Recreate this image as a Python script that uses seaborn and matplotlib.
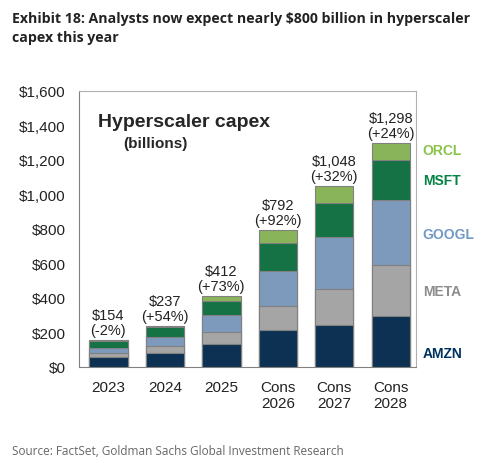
import matplotlib
matplotlib.use("Agg")
import matplotlib.pyplot as plt
import seaborn as sns
import pandas as pd
import numpy as np

sns.set_theme(style="white")
plt.rcParams['font.family'] = ['Liberation Sans', 'DejaVu Sans']

years = ["2023", "2024", "2025", "Cons\n2026", "Cons\n2027", "Cons\n2028"]
companies = ["AMZN", "META", "GOOGL", "MSFT", "ORCL"]
amzn = [56, 81, 133, 216, 242, 294]
meta = [25, 39, 67, 136, 208, 296]
googl = [31, 52, 99, 203, 302, 375]
msft = [37, 58, 84, 164, 200, 237]
orcl = [5, 7, 29, 73, 96, 96]
totals = [154, 237, 412, 792, 1048, 1298]
growth = ["-2%", "+54%", "+73%", "+92%", "+32%", "+24%"]
colors = ["#00325f", "#a5a5a5", "#7299c6", "#058244", "#8bc34a"]
label_colors = ["#00325f", "#8c8c8c", "#7299c6", "#058244", "#8bc34a"]

series = [amzn, meta, googl, msft, orcl]
fig = plt.figure(figsize=(4.85, 4.64), dpi=100)
ax = fig.add_axes([0.163, 0.207, 0.695, 0.595])
bottom = np.zeros(len(years))
for name, vals, c in zip(companies, series, colors):
    df = pd.DataFrame({"year": years, "v": np.array(vals) + bottom})
    sns.barplot(data=df, x="year", y="v", color=c, ax=ax, width=0.68,
                edgecolor="#808080", linewidth=0.8, zorder=5 - companies.index(name))
    bottom += np.array(vals)

for i, (t, g) in enumerate(zip(totals, growth)):
    ax.text(i, t + 18, f"${t:,}\n({g})", ha="center", va="bottom", fontsize=10.5, color="#222222", linespacing=1.1)

mids = [80, 440, 770, 1085, 1255]
for name, y, c in zip(companies, mids, label_colors):
    ax.text(1.02, y, name, transform=ax.get_yaxis_transform(), color=c, fontsize=10,
            fontweight="bold", va="center", ha="left")

ax.set_ylim(0, 1600)
ax.set_xlim(-0.52, 5.45)
ax.set_yticks(range(0, 1601, 200))
ax.set_yticklabels([f"${v:,}" for v in range(0, 1601, 200)], fontsize=11)
ax.tick_params(axis="x", labelsize=11, colors="#222222")
ax.tick_params(axis="y", colors="#222222")
ax.set_xlabel("")
ax.set_ylabel("")
for s in ax.spines.values():
    s.set_color("#b0b0b0")
    s.set_linewidth(0.8)
ax.spines["left"].set_color("#808080")
ax.spines["bottom"].set_color("#808080")

ax.text(0.056, 0.92, "Hyperscaler capex", transform=ax.transAxes, fontsize=14, fontweight="bold", va="top")
ax.text(0.13, 0.835, "(billions)", transform=ax.transAxes, fontsize=11, fontweight="bold", va="top")

fig.text(0.025, 0.975, "Exhibit 18: Analysts now expect nearly $800 billion in hyperscaler\ncapex this year",
         fontsize=10.2, fontweight="bold", va="top", ha="left", color="#222222", linespacing=1.45,
         family=["Open Sans", "DejaVu Sans"])
fig.text(0.025, 0.02, "Source: FactSet, Goldman Sachs Global Investment Research", fontsize=8.5,
         color="#666666", family=["Open Sans", "DejaVu Sans"])
fig.savefig("out.png", dpi=100)
